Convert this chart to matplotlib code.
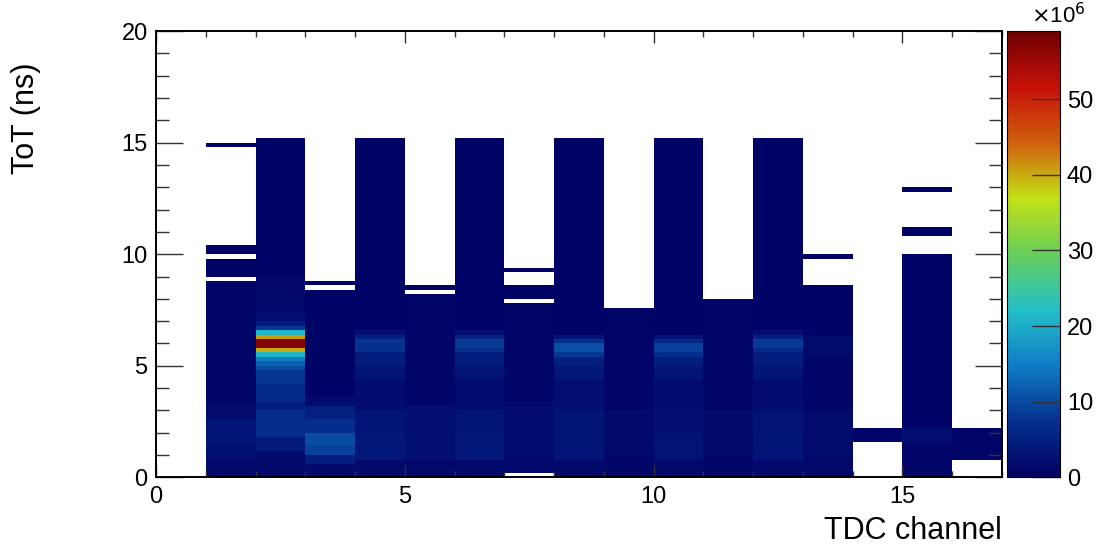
import numpy as np
import matplotlib.pyplot as plt
from matplotlib.colors import LinearSegmentedColormap
from matplotlib.ticker import MultipleLocator

plt.rcParams['font.family'] = ['Liberation Sans', 'DejaVu Sans']

# ROOT kRainBow palette
stops = [0.0, 0.125, 0.25, 0.375, 0.5, 0.625, 0.75, 0.875, 1.0]
red = [0, 5, 15, 35, 102, 196, 208, 199, 110]
green = [0, 48, 124, 192, 206, 226, 97, 16, 0]
blue = [99, 142, 198, 201, 90, 22, 13, 8, 2]

# binning
n_channels = 17
tot_bin = 0.2
tot_max = 20.0
z_max = 59.0  # x10^6

# per channel: (ToT low, ToT high, entries in 1e6)
ch1 = [(0.0, 0.8, 1.5), (0.8, 1.4, 2.5), (1.4, 2.6, 3.0), (2.6, 3.4, 1.8),
       (3.4, 8.8, 0.8), (9.0, 9.8, 0.4), (10.0, 10.4, 0.4), (14.8, 15.0, 0.4)]
ch2 = [(0.0, 1.2, 1.5), (1.2, 1.8, 4.0), (1.8, 3.0, 7.0), (3.0, 3.4, 5.0),
       (3.4, 4.2, 6.5), (4.2, 4.8, 8.0),
       (4.8, 5.0, 10.0), (5.0, 5.2, 12.0), (5.2, 5.4, 15.0), (5.4, 5.6, 21.0),
       (5.6, 5.8, 40.0), (5.8, 6.2, 57.0), (6.2, 6.4, 41.0), (6.4, 6.6, 21.0),
       (6.6, 6.8, 8.0), (6.8, 7.0, 4.0), (7.0, 7.4, 2.5), (7.4, 9.0, 1.2),
       (9.0, 15.2, 0.6)]
ch3 = [(0.0, 0.6, 1.5), (0.6, 1.0, 4.5), (1.0, 1.4, 9.0), (1.4, 2.0, 10.0),
       (2.0, 2.6, 7.0), (2.6, 3.2, 5.0), (3.2, 3.6, 2.0), (3.6, 8.4, 0.6),
       (8.6, 8.8, 0.3)]
ch4 = [(0.0, 0.8, 1.5), (0.8, 2.0, 3.5), (2.0, 3.0, 3.0), (3.0, 4.4, 2.0),
       (4.4, 5.0, 3.0), (5.0, 5.6, 4.5), (5.6, 6.0, 7.5), (6.0, 6.2, 8.0),
       (6.2, 6.4, 5.0), (6.4, 6.6, 2.5), (6.6, 15.2, 0.5)]
ch5 = [(0.0, 0.8, 1.2), (0.8, 3.2, 2.5), (3.2, 8.2, 0.8), (8.4, 8.6, 0.3)]
ch6 = [(0.0, 0.8, 1.5), (0.8, 2.0, 3.5), (2.0, 3.0, 3.0), (3.0, 4.4, 2.0),
       (4.4, 5.0, 3.0), (5.0, 5.6, 4.5), (5.6, 5.8, 7.0), (5.8, 6.2, 8.5),
       (6.2, 6.4, 5.5), (6.4, 6.6, 2.5), (6.6, 15.2, 0.5)]
ch7 = [(0.2, 1.0, 1.2), (1.0, 3.4, 2.0), (3.4, 7.8, 0.8), (8.0, 8.6, 0.4),
       (9.2, 9.4, 0.3)]
ch8 = [(0.0, 0.8, 1.5), (0.8, 2.0, 3.0), (2.0, 3.0, 3.0), (3.0, 4.4, 2.5),
       (4.4, 5.0, 3.5), (5.0, 5.4, 5.0), (5.4, 5.6, 8.0), (5.6, 6.0, 10.5),
       (6.0, 6.2, 7.0), (6.2, 6.4, 3.5), (6.4, 15.2, 0.5)]
ch9 = [(0.0, 1.0, 1.0), (1.0, 3.0, 1.6), (3.0, 7.6, 0.8)]
ch10 = [(0.0, 0.8, 1.5), (0.8, 2.0, 2.8), (2.0, 3.0, 2.5), (3.0, 4.4, 2.0),
        (4.4, 5.0, 3.0), (5.0, 5.4, 4.5), (5.4, 5.6, 7.0), (5.6, 6.0, 9.0),
        (6.0, 6.2, 6.0), (6.2, 6.4, 3.0), (6.4, 15.2, 0.5)]
ch11 = [(0.0, 1.0, 1.0), (1.0, 3.0, 1.5), (3.0, 8.0, 0.7)]
ch12 = [(0.0, 0.8, 1.5), (0.8, 2.0, 3.0), (2.0, 3.0, 2.8), (3.0, 4.4, 2.0),
        (4.4, 5.0, 3.0), (5.0, 5.6, 4.5), (5.6, 5.8, 6.5), (5.8, 6.2, 8.5),
        (6.2, 6.4, 5.0), (6.4, 6.6, 2.5), (6.6, 15.2, 0.5)]
ch13 = [(0.0, 1.0, 1.2), (1.0, 3.0, 1.8), (3.0, 5.4, 0.9), (5.4, 6.4, 1.8),
        (6.4, 8.6, 0.6), (9.8, 10.0, 0.3)]
ch14 = [(1.6, 2.2, 0.8)]
ch15 = [(0.0, 1.6, 1.0), (1.6, 2.2, 2.2), (2.2, 10.0, 0.6), (10.8, 11.2, 0.3),
        (12.8, 13.0, 0.3)]
ch16 = [(0.8, 2.2, 0.8)]

channel_data = [[], ch1, ch2, ch3, ch4, ch5, ch6, ch7, ch8, ch9, ch10,
                ch11, ch12, ch13, ch14, ch15, ch16]

# fill the 2D histogram
n_tot = int(round(tot_max / tot_bin))
counts = np.zeros((n_channels, n_tot))
for ch, segs in enumerate(channel_data):
    for lo, hi, val in segs:
        i0 = int(round(lo / tot_bin))
        i1 = int(round(hi / tot_bin))
        counts[ch, i0:i1] = val * 1e6
counts = np.ma.masked_equal(counts, 0)

x_edges = np.arange(n_channels + 1)
y_edges = np.linspace(0, tot_max, n_tot + 1)

cmap = LinearSegmentedColormap.from_list(
    'rainbow55',
    [(s, (r / 255, g / 255, b / 255)) for s, r, g, b in zip(stops, red, green, blue)])

W, H = 1105, 550
fig = plt.figure(figsize=(W / 100, H / 100), dpi=100)
ax = fig.add_axes([156 / W, 1 - 477.4 / H, 846 / W, 446.4 / H])
mesh = ax.pcolormesh(x_edges, y_edges, counts.T, cmap=cmap,
                     vmin=0, vmax=z_max * 1e6, shading='flat')

ax.set_xlim(0, 17)
ax.set_ylim(0, 20)
ax.xaxis.set_major_locator(MultipleLocator(5))
ax.xaxis.set_minor_locator(MultipleLocator(1))
ax.yaxis.set_major_locator(MultipleLocator(5))
ax.yaxis.set_minor_locator(MultipleLocator(1))
ax.tick_params(axis='both', which='both', direction='in', top=True, right=True,
               labelsize=17, width=1.0, color='#333333')
ax.tick_params(axis='x', which='major', length=8.5, pad=6)
ax.tick_params(axis='x', which='minor', length=4.2)
ax.tick_params(axis='y', which='major', length=19.5, pad=6)
ax.tick_params(axis='y', which='minor', length=9.5)
for sp in ax.spines.values():
    sp.set_linewidth(1.4)

ax.set_xlabel('TDC channel', fontsize=22, loc='right', labelpad=6)
fig.text(26 / W, 1 - 62 / H, 'ToT (ns)', fontsize=22, rotation=90,
         ha='center', va='top')

# colour scale
cax = fig.add_axes([1007 / W, 1 - 477.4 / H, 53 / W, 446.4 / H])
cb = fig.colorbar(mesh, cax=cax)
cb.set_ticks(np.arange(0, 60, 10) * 1e6)
cb.set_ticklabels([str(v) for v in range(0, 60, 10)])
cb.outline.set_linewidth(0.8)
cax.tick_params(direction='in', length=20, width=1.0, labelsize=17, pad=5,
                color='#333333')
fig.text(1031 / W, 1 - 23 / H, r'$\times$10$^{6}$', fontsize=16, va='baseline')

fig.savefig('out.png', dpi=100)
